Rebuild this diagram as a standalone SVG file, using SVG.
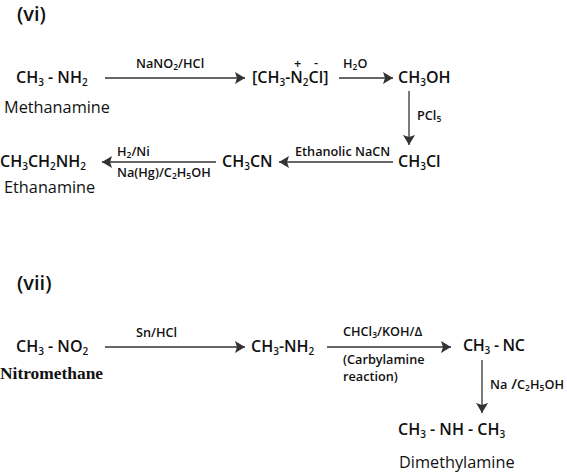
<svg xmlns="http://www.w3.org/2000/svg" width="567" height="474" viewBox="0 0 567 474">
<style>
text{font-family:"Open Sans","Liberation Sans",sans-serif;font-weight:600;fill:#111}
.h{font-size:20px}
.m{font-size:16px}
.n{font-size:16.3px;font-weight:500}
.l{font-size:12.7px}
.s{font-size:10px;baseline-shift:-3px}
.ls{font-size:8.5px;baseline-shift:-2px}
.c{stroke:#333;stroke-width:1.3;fill:none;marker-end:url(#a)}
</style>
<defs><marker id="a" markerUnits="userSpaceOnUse" markerWidth="11" markerHeight="12" refX="10" refY="6" orient="auto"><path d="M0 0L10 6L0 12L2 6Z" fill="#333"/></marker></defs>
<rect width="567" height="474" fill="#fff"/>
<g id="labels">
<text class="h" x="17" y="21">(vi)</text>
<text class="h" x="17" y="290">(vii)</text>
</g>
<g id="connectors">
<path class="c" d="M105 78H245"/>
<path class="c" d="M339 78H393"/>
<path class="c" d="M409 91V145"/>
<path class="c" d="M393 162H279"/>
<path class="c" d="M216 162H102"/>
<path class="c" d="M105 347H245"/>
<path class="c" d="M327 347H451"/>
<path class="c" d="M482 360V413"/>
</g>
<g id="n-methanamine"><text class="m" x="16" y="83">CH<tspan class="s">3</tspan> - NH<tspan class="s">2</tspan></text><text class="n" x="4" y="113">Methanamine</text></g>
<g id="n-diazonium"><text class="m" x="252" y="83">[CH<tspan class="s">3</tspan>-N<tspan class="s">2</tspan>Cl]</text><text class="l" x="294" y="68">+</text><text class="l" x="314" y="67">-</text></g>
<g id="n-methanol"><text class="m" x="398" y="83">CH<tspan class="s">3</tspan>OH</text></g>
<g id="n-chloromethane"><text class="m" x="398" y="167">CH<tspan class="s">3</tspan>Cl</text></g>
<g id="n-acetonitrile"><text class="m" x="222" y="167">CH<tspan class="s">3</tspan>CN</text></g>
<g id="n-ethanamine"><text class="m" x="0" y="167">CH<tspan class="s">3</tspan>CH<tspan class="s">2</tspan>NH<tspan class="s">2</tspan></text><text class="n" x="4" y="193">Ethanamine</text></g>
<g id="n-nitromethane"><text class="m" x="16" y="352">CH<tspan class="s">3</tspan> - NO<tspan class="s">2</tspan></text><text x="0" y="379" style="font-family:'Liberation Serif',serif;font-weight:700;font-size:17.4px">Nitromethane</text></g>
<g id="n-methylamine"><text class="m" x="251" y="352">CH<tspan class="s">3</tspan>-NH<tspan class="s">2</tspan></text></g>
<g id="n-isocyanide"><text class="m" x="463" y="351" textLength="62">CH<tspan class="s">3</tspan> - NC</text></g>
<g id="n-dimethylamine"><text class="m" x="398" y="435">CH<tspan class="s">3</tspan> - NH - CH<tspan class="s">3</tspan></text><text class="n" x="399" y="468">Dimethylamine</text></g>
<g id="conditions">
<text class="l" x="136" y="68">NaNO<tspan class="ls">2</tspan>/HCl</text>
<text class="l" x="343" y="68">H<tspan class="ls">2</tspan>O</text>
<text class="l" x="417" y="120">PCl<tspan class="ls">5</tspan></text>
<text class="l" x="295" y="156">Ethanolic NaCN</text>
<text class="l" x="117" y="156">H<tspan class="ls">2</tspan>/Ni</text>
<text class="l" x="117" y="177">Na(Hg)/C<tspan class="ls">2</tspan>H<tspan class="ls">5</tspan>OH</text>
<text class="l" x="136" y="337">Sn/HCl</text>
<text class="l" x="343" y="336">CHCl<tspan class="ls">3</tspan>/KOH/Δ</text>
<text class="l" x="343" y="364">(Carbylamine</text>
<text class="l" x="343" y="381">reaction)</text>
<text class="l" x="490" y="389">Na<tspan font-size="15"> /</tspan>C<tspan class="ls">2</tspan>H<tspan class="ls">5</tspan>OH</text>
</g>
</svg>
